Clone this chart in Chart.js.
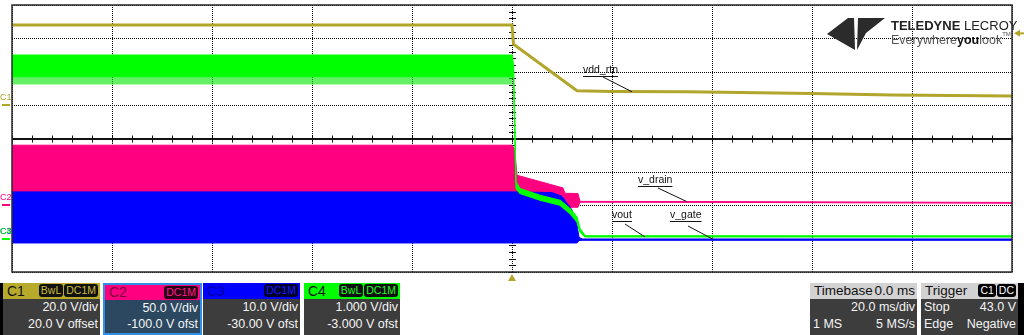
<!DOCTYPE html>
<html>
<head>
<meta charset="utf-8">
<script src="https://cdn.jsdelivr.net/npm/chart.js@4.4.1/dist/chart.umd.min.js"></script>
<style>
  html, body { margin: 0; padding: 0; background: #fff; }
  body { width: 1024px; height: 335px; position: relative; overflow: hidden; font-family: "Liberation Sans", Arial, sans-serif; }
  #scope { position: absolute; left: 0; top: 0; width: 1024px; height: 283px; }
  .blk { position: absolute; top: 283px; height: 52px; background: #000; }
  .box { position: absolute; top: 283px; height: 52px; background: #3d3d3d; color: #f4f4f4; box-sizing: border-box; white-space: nowrap; }
  .head { height: 16px; position: relative; font-size: 14px; line-height: 16px; padding-left: 4px; }
  .badges { position: absolute; right: 2px; top: 1px; display: flex; gap: 1px; }
  .badge { font-size: 10.5px; line-height: 13px; padding: 0 2px; border-radius: 3px; background: #111; }
  .row { font-size: 12.5px; line-height: 17px; height: 17px; display: flex; justify-content: space-between; padding: 0 2px 0 3px; }
</style>
</head>
<body>
<div id="scope"><canvas id="myChart"></canvas></div>

<div class="blk" style="left:0;width:3px"></div>
<div class="box" style="left:3px;width:97px">
  <div class="head" style="background:#b8ab2c;color:#111">C1<span class="badges"><span class="badge" style="color:#cbbd38">BwL</span><span class="badge" style="color:#cbbd38">DC1M</span></span></div>
  <div class="row"><span></span><span>20.0 V/div</span></div>
  <div class="row"><span></span><span>20.0 V offset</span></div>
</div>
<div class="box" style="left:103px;width:99px;background:#2c4861;border:2px solid #2f8fe6;">
  <div class="head" style="background:#ff0080;color:#7a0038;height:15px;line-height:15px;">C2<span class="badges"><span class="badge" style="color:#ff1a8c;background:#2a0014">DC1M</span></span></div>
  <div class="row" style="line-height:16px;height:16px"><span></span><span>50.0 V/div</span></div>
  <div class="row" style="line-height:16px;height:16px"><span></span><span>-100.0 V ofst</span></div>
</div>
<div class="box" style="left:203px;width:97px">
  <div class="head" style="background:#0000ff;color:#0000a8">C3<span class="badges"><span class="badge" style="color:#1a1aff;background:#00002c">DC1M</span></span></div>
  <div class="row"><span></span><span>10.0 V/div</span></div>
  <div class="row"><span></span><span>-30.00 V ofst</span></div>
</div>
<div class="box" style="left:304px;width:96px">
  <div class="head" style="background:#00ff00;color:#111">C4<span class="badges"><span class="badge" style="color:#22ff22">BwL</span><span class="badge" style="color:#22ff22">DC1M</span></span></div>
  <div class="row"><span></span><span>1.000 V/div</span></div>
  <div class="row"><span></span><span>-3.000 V ofst</span></div>
</div>
<div class="box" style="left:810px;width:107px">
  <div class="head" style="background:#d2d2d2;color:#111;font-size:13.5px;display:flex;justify-content:space-between;padding-right:2px"><span>Timebase</span><span>0.0 ms</span></div>
  <div class="row"><span></span><span>20.0 ms/div</span></div>
  <div class="row"><span>1 MS</span><span>5 MS/s</span></div>
</div>
<div class="box" style="left:921px;width:97px">
  <div class="head" style="background:#d2d2d2;color:#111;font-size:13.5px">Trigger<span class="badges"><span class="badge" style="color:#fff;background:#000">C1</span><span class="badge" style="color:#fff;background:#000">DC</span></span></div>
  <div class="row"><span>Stop</span><span>43.0 V</span></div>
  <div class="row"><span>Edge</span><span>Negative</span></div>
</div>
<div class="blk" style="left:1018px;width:6px"></div>

<script>
//scope capture, time in ms (20 ms/div, trigger at 0)
const timeMin = -100;
const timeMax = 100;

// C1 vdd_rtn
const vddRtnTime  = [-100, 0, 0.3, 13, 20, 35, 60, 76, 100];
const vddRtnVolts = [48, 48, 36.5, 8.6, 8.1, 8.0, 7.0, 6.1, 5.5];

// C2 v_drain (switching, drawn as min/max envelope)
const vDrainTime = [-100, 0, 0.5, 1.0, 10.2, 10.6, 13.2, 13.6, 14, 40, 100];
const vDrainHigh = [90, 90, 85, 45, 26, 18, 17.5, 5.8, 5.8, 5.5, 4.2];
const vDrainLow  = [-3, -3, -3, -3, -3, -3, -3, 4.6, 4.6, 4.3, 3.0];

// C3 v_gate (switching envelope)
const vGateTime = [-100, 0, 8, 10, 12, 13, 13.4, 14, 100];
const vGateHigh = [14, 14, 13.8, 12.7, 8.6, 4.1, 0.4, -0.1, -0.1];
const vGateLow  = [-1.3, -1.3, -1.3, -1.3, -1.3, -1.3, -0.6, -0.5, -0.5];

// C4 vout (noise envelope)
const voutTime = [-100, 0, 0.3, 0.8, 1.6, 5.6, 9.6, 11.6, 13, 13.6, 14.6, 100];
const voutHigh = [5.5, 5.5, 5.2, 1.7, 1.5, 1.3, 1.15, 0.9, 0.65, 0.3, 0.09, 0.08];
const voutLow  = [4.85, 4.85, 4.8, 1.5, 1.35, 1.15, 1.0, 0.75, 0.5, 0.2, 0.05, 0.05];
// lower noise spikes of vout before the trigger
const voutSpikeTime = [-100, 0];
const voutSpikeHigh = [4.85, 4.85];
const voutSpikeLow  = [4.62, 4.62];

// channel setup
const channels    = ['C1', 'C2', 'C3', 'C4'];
const voltsPerDiv = [20, 50, 10, 1];
const offsetVolts = [20, -100, -30, -3];
const traceColors = ['#b2a52b', '#ff0080', '#0000ff', '#00ff00'];
const triggerLevel = 43.0;

function pts(t, v) {
  return t.map((x, i) => ({ x: x, y: v[i] }));
}

function channelAxis(i) {
  const centre = -offsetVolts[i];
  return { display: false, min: centre - 4 * voltsPerDiv[i], max: centre + 4 * voltsPerDiv[i] };
}

const line = { pointRadius: 0, tension: 0 };

const datasets = [
  Object.assign({ label: 'vdd_rtn', data: pts(vddRtnTime, vddRtnVolts), yAxisID: 'c1',
    borderColor: traceColors[0], borderWidth: 3, fill: false, order: 1 }, line),
  Object.assign({ label: 'vout', data: pts(voutTime, voutHigh), yAxisID: 'c4',
    borderColor: traceColors[3], backgroundColor: traceColors[3], borderWidth: 1.2, fill: '+1', order: 2 }, line),
  Object.assign({ label: 'vout min', data: pts(voutTime, voutLow), yAxisID: 'c4',
    borderColor: traceColors[3], borderWidth: 1.2, fill: false, order: 2 }, line),
  Object.assign({ label: 'vout spikes', data: pts(voutSpikeTime, voutSpikeHigh), yAxisID: 'c4',
    borderColor: 'rgba(0,255,0,0)', backgroundColor: 'rgba(0,230,0,0.6)', borderWidth: 0, fill: '+1', order: 2 }, line),
  Object.assign({ label: 'vout spikes min', data: pts(voutSpikeTime, voutSpikeLow), yAxisID: 'c4',
    borderColor: 'rgba(0,255,0,0)', borderWidth: 0, fill: false, order: 2 }, line),
  Object.assign({ label: 'v_gate', data: pts(vGateTime, vGateHigh), yAxisID: 'c3',
    borderColor: traceColors[2], backgroundColor: traceColors[2], borderWidth: 1, fill: '+1', order: 3 }, line),
  Object.assign({ label: 'v_gate min', data: pts(vGateTime, vGateLow), yAxisID: 'c3',
    borderColor: traceColors[2], borderWidth: 1, fill: false, order: 3 }, line),
  Object.assign({ label: 'v_drain', data: pts(vDrainTime, vDrainHigh), yAxisID: 'c2',
    borderColor: traceColors[1], backgroundColor: traceColors[1], borderWidth: 1, fill: '+1', order: 4 }, line),
  Object.assign({ label: 'v_drain min', data: pts(vDrainTime, vDrainLow), yAxisID: 'c2',
    borderColor: traceColors[1], borderWidth: 1, fill: false, order: 4 }, line)
];

// labels next to the traces: text position + where the leader points (time, volts)
const traceLabels = [
  { text: 'vdd_rtn', axis: 'c1', tx: 583, ty: 73, lx: 603, ly: 77, t: 24, v: 8.0 },
  { text: 'v_drain', axis: 'c2', tx: 638, ty: 183, lx: 658, ly: 188, t: 35, v: 5.3 },
  { text: 'vout', axis: 'c4', tx: 612, ty: 218, lx: 625, ly: 224, t: 26.6, v: 0.05 },
  { text: 'v_gate', axis: 'c3', tx: 670, ty: 218, lx: 688, ly: 226, t: 40.2, v: -0.2 }
];

const scopeDecor = {
  id: 'scopeDecor',
  beforeDatasetsDraw(chart) {
    const ctx = chart.ctx, a = chart.chartArea;
    const xs = chart.scales.x, ds = chart.scales.div;
    const x0 = xs.getPixelForValue(0), y0 = ds.getPixelForValue(0);
    ctx.save();
    // dotted graticule from the scale ticks
    ctx.fillStyle = '#000';
    xs.ticks.forEach(tk => {
      const px = Math.round(xs.getPixelForValue(tk.value));
      for (let y = Math.round(a.top); y < a.bottom; y += 2) ctx.fillRect(px, y, 1, 1);
    });
    ds.ticks.forEach(tk => {
      if (tk.value === 0) return;
      const py = Math.round(ds.getPixelForValue(tk.value));
      for (let x = Math.round(a.left); x < a.right; x += 2) ctx.fillRect(x, py, 1, 1);
    });
    // minor ticks on the centre axes
    ctx.strokeStyle = '#111';
    ctx.lineWidth = 1;
    ctx.beginPath();
    for (let t = timeMin; t <= timeMax; t += 4) {
      const px = Math.round(xs.getPixelForValue(t)) + 0.5;
      ctx.moveTo(px, y0 - 3);
      ctx.lineTo(px, y0 + 4);
    }
    for (let d = -4; d <= 4.001; d += 0.2) {
      const py = Math.round(ds.getPixelForValue(d)) + 0.5;
      ctx.moveTo(x0 - 3, py);
      ctx.lineTo(x0 + 4, py);
    }
    ctx.stroke();
    // solid horizontal centre line
    ctx.lineWidth = 2;
    ctx.beginPath();
    ctx.moveTo(a.left, Math.round(y0));
    ctx.lineTo(a.right, Math.round(y0));
    ctx.stroke();
    ctx.restore();
  },
  afterDatasetsDraw(chart) {
    const ctx = chart.ctx, a = chart.chartArea;
    const xs = chart.scales.x;
    ctx.save();

    // grid frame
    ctx.strokeStyle = '#2a2a2a';
    ctx.lineWidth = 1.5;
    ctx.strokeRect(a.left, a.top, a.right - a.left, a.bottom - a.top);

    // channel ground markers on the left
    ctx.font = '9px "Liberation Sans", Arial, sans-serif';
    [0, 1, 2, 3].forEach(i => {
      const y = Math.round(chart.scales['c' + (i + 1)].getPixelForValue(0));
      ctx.fillStyle = traceColors[i];
      ctx.fillText(channels[i], 0, y - 5);
      ctx.fillRect(2, y - 1, 8, 2);
    });

    // trigger level marker (right) and trigger time marker (bottom)
    const ty = chart.scales.c1.getPixelForValue(triggerLevel);
    ctx.fillStyle = traceColors[0];
    ctx.beginPath();
    ctx.moveTo(1014, ty);
    ctx.lineTo(1020, ty - 3.5);
    ctx.lineTo(1020, ty + 3.5);
    ctx.closePath();
    ctx.fill();
    ctx.fillRect(1019, ty - 1, 5, 2);
    const tx = xs.getPixelForValue(0);
    ctx.beginPath();
    ctx.moveTo(tx, a.bottom + 2);
    ctx.lineTo(tx - 4, a.bottom + 9);
    ctx.lineTo(tx + 4, a.bottom + 9);
    ctx.closePath();
    ctx.fill();

    // trace labels
    ctx.font = '10.5px "Liberation Sans", Arial, sans-serif';
    ctx.fillStyle = '#111';
    ctx.strokeStyle = '#111';
    ctx.lineWidth = 1;
    traceLabels.forEach(l => {
      const w = ctx.measureText(l.text).width;
      ctx.fillText(l.text, l.tx, l.ty);
      ctx.beginPath();
      ctx.moveTo(l.tx, l.ty + 3.5);
      ctx.lineTo(l.tx + w, l.ty + 3.5);
      ctx.moveTo(l.lx, l.ly);
      ctx.lineTo(xs.getPixelForValue(l.t), chart.scales[l.axis].getPixelForValue(l.v));
      ctx.stroke();
    });

    // logo
    ctx.fillStyle = '#2b2b2b';
    ctx.beginPath();
    ctx.moveTo(827, 34); ctx.lineTo(848, 18); ctx.lineTo(854, 18); ctx.lineTo(855, 50);
    ctx.closePath(); ctx.fill();
    ctx.beginPath();
    ctx.moveTo(858, 18); ctx.lineTo(885, 18); ctx.lineTo(866, 33); ctx.lineTo(857, 50);
    ctx.closePath(); ctx.fill();
    ctx.fillStyle = '#222';
    ctx.font = 'bold 13px "Liberation Sans", Arial, sans-serif';
    ctx.fillText('TELEDYNE', 891, 30);
    const w1 = ctx.measureText('TELEDYNE ').width;
    ctx.font = '13px "Liberation Sans", Arial, sans-serif';
    ctx.fillText('LECROY', 891 + w1, 30);
    ctx.font = '12.5px "Liberation Sans", Arial, sans-serif';
    ctx.fillStyle = '#555';
    ctx.fillText('Everywhere', 891, 44);
    let px = 891 + ctx.measureText('Everywhere').width;
    ctx.font = 'bold 12.5px "Liberation Sans", Arial, sans-serif';
    ctx.fillStyle = '#111';
    ctx.fillText('you', px, 44);
    px += ctx.measureText('you').width;
    ctx.font = '12.5px "Liberation Sans", Arial, sans-serif';
    ctx.fillStyle = '#555';
    ctx.fillText('look', px, 44);
    px += ctx.measureText('look').width;
    ctx.font = '6px "Liberation Sans", Arial, sans-serif';
    ctx.fillText('TM', px, 36);

    ctx.restore();
  }
};

const hiddenGrid = {
  grid: { display: false, drawTicks: false },
  border: { display: false }
};

const config = {
  type: 'line',
  data: { datasets: datasets },
  options: {
    responsive: true,
    maintainAspectRatio: false,
    animation: false,
    layout: { padding: { left: 12, right: 12, top: 5, bottom: 11 } },
    plugins: { legend: { display: false }, tooltip: { enabled: false } },
    scales: {
      x: Object.assign({ type: 'linear', min: timeMin, max: timeMax, ticks: { display: false, stepSize: 20 } }, hiddenGrid),
      div: Object.assign({ type: 'linear', position: 'left', min: -4, max: 4, ticks: { display: false, stepSize: 1 } }, hiddenGrid),
      c1: channelAxis(0),
      c2: channelAxis(1),
      c3: channelAxis(2),
      c4: channelAxis(3)
    }
  },
  plugins: [scopeDecor]
};

const myChart = new Chart(document.getElementById('myChart'), config);
</script>
</body>
</html>
